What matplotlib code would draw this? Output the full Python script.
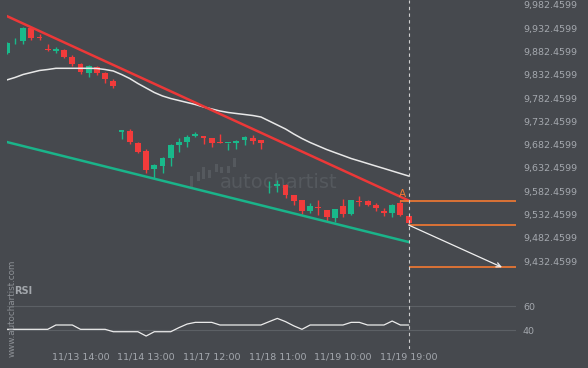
import matplotlib
matplotlib.use("Agg")
import matplotlib.pyplot as plt
from matplotlib.patches import Rectangle
import numpy as np

# ---------------- data ----------------
opens = [9880.0, 9904.1, 9905.8, 9933.7, 9913.1, 9886.9, 9884.3, 9885.8, 9871.4, 9855.7,
         9837.0, 9848.6, 9837.0, 9819.2, 9710.7, 9711.8, 9686.7, 9668.9, 9630.2, 9637.3,
         9654.5, 9681.7, 9688.8, 9702.1, 9701.1, 9696.8, 9686.7, 9685.4, 9685.4, 9692.5,
         9696.8, 9692.5, 9592.6, 9594.7, 9595.8, 9574.3, 9563.6, 9540.6, 9548.6, 9542.1,
         9524.3, 9550.7, 9532.9, 9562.1, 9560.8, 9552.9, 9539.9, 9535.7, 9557.8, 9529.2]
highs = [9903.0, 9910.9, 9935.2, 9935.8, 9919.5, 9898.0, 9891.6, 9886.9, 9875.1, 9858.5,
         9853.6, 9851.4, 9839.2, 9822.9, 9713.5, 9715.5, 9688.0, 9672.5, 9641.0, 9656.0,
         9683.9, 9697.4, 9703.2, 9710.3, 9701.5, 9697.8, 9706.4, 9687.0, 9692.5, 9700.0,
         9703.9, 9693.0, 9604.4, 9606.6, 9597.9, 9575.4, 9564.6, 9556.5, 9564.6, 9542.5,
         9544.2, 9565.1, 9564.0, 9571.5, 9564.6, 9556.5, 9545.8, 9556.0, 9563.6, 9530.0]
lows = [9878.0, 9898.0, 9899.3, 9907.9, 9907.9, 9883.6, 9878.7, 9868.0, 9851.4, 9833.6,
        9827.2, 9832.1, 9815.6, 9804.8, 9694.0, 9683.2, 9663.9, 9622.2, 9610.2, 9620.9,
        9637.3, 9667.4, 9678.1, 9698.3, 9683.9, 9678.1, 9685.0, 9670.4, 9672.1, 9680.7,
        9684.5, 9672.5, 9579.3, 9581.4, 9567.3, 9552.9, 9532.9, 9535.0, 9531.4, 9517.0,
        9515.3, 9527.7, 9531.4, 9550.7, 9550.7, 9539.9, 9529.2, 9527.1, 9529.2, 9512.0]
closes = [9901.5, 9906.2, 9933.7, 9912.2, 9910.9, 9885.2, 9887.9, 9871.4, 9855.7, 9837.9,
          9851.4, 9837.0, 9822.9, 9809.1, 9712.9, 9688.8, 9667.4, 9628.0, 9638.8, 9654.5,
          9681.7, 9688.8, 9698.3, 9704.3, 9696.1, 9686.0, 9685.4, 9686.7, 9689.7, 9699.6,
          9691.0, 9685.4, 9594.7, 9596.9, 9574.3, 9562.1, 9538.9, 9551.1, 9545.8, 9526.0,
          9543.6, 9533.5, 9563.6, 9559.3, 9553.9, 9545.8, 9536.7, 9553.9, 9530.3, 9513.6]
moving_avg = [9821.4, 9826.7, 9833.2, 9837.5, 9841.8, 9843.9, 9846.5, 9846.5, 9846.5, 9846.5,
              9846.5, 9846.1, 9843.9, 9840.7, 9833.2, 9824.6, 9813.8, 9804.2, 9794.5, 9787.0,
              9781.6, 9777.3, 9773.0, 9768.7, 9763.4, 9759.1, 9754.8, 9751.6, 9749.4, 9747.3,
              9745.1, 9741.9, 9733.3, 9724.7, 9716.1, 9705.4, 9695.7, 9687.1, 9679.6, 9672.1,
              9665.6, 9659.2, 9652.7, 9647.4, 9642.0, 9636.6, 9631.3, 9625.9, 9620.5, 9615.2]
rsi = [40.6, 40.6, 40.6, 40.6, 40.6, 40.6, 44.2, 44.2, 44.2, 40.6,
       40.6, 40.6, 40.6, 38.6, 38.6, 38.6, 38.6, 35.0, 38.6, 38.6,
       38.6, 42.0, 45.0, 46.4, 46.4, 46.4, 44.2, 44.2, 44.2, 44.2,
       44.2, 44.2, 47.0, 49.7, 47.0, 43.5, 40.6, 44.2, 44.2, 44.2,
       44.2, 44.2, 46.4, 46.4, 44.2, 44.2, 44.2, 47.5, 44.2, 44.2]

resistance_x = [0, 49]
resistance_y = [9958.8, 9562.5]
support_x = [0, 49]
support_y = [9688.2, 9473.4]
level_a = 9562.1
level_now = 9509.9
level_target = 9419.0
arrow_x = [49, 60.4]
arrow_y = [9509.9, 9419.0]

tick_idx = [9, 17, 25, 33, 41, 49]
tick_labels = ["11/13 14:00", "11/14 13:00", "11/17 12:00", "11/18 11:00",
               "11/19 10:00", "11/19 19:00"]
price_ticks = [9432.4599 + 50 * k for k in range(12)]
rsi_ticks = [40, 60]

# --------------- style ---------------
BG = "#46494e"
TXT = "#a4a8ae"
UP = "#19b98b"
DOWN = "#f23b3b"
RED_LINE = "#ec3838"
GREEN_LINE = "#1ab48a"
ORANGE = "#f57a32"

fig = plt.figure(figsize=(5.88, 3.68), dpi=100, facecolor=BG)
L = 6.7 / 588
W = (516 - 6.7) / 588
ax = fig.add_axes([L, 1 - 283 / 368, W, 283 / 368])
ax2 = fig.add_axes([L, 1 - 349 / 368, W, 66 / 368], sharex=ax)
for a in (ax, ax2):
    a.set_facecolor(BG)
    for s in a.spines.values():
        s.set_visible(False)

n = len(opens)
x = np.arange(n)
o = np.array(opens); c = np.array(closes)
h = np.array(highs); l = np.array(lows)
up = c >= o
cols = np.where(up, UP, DOWN)
ax.vlines(x, l, h, colors=cols, linewidth=1.0, zorder=3)
bottoms = np.minimum(o, c)
heights = np.maximum(np.abs(c - o), 2.0)
ax.bar(x, heights, bottom=bottoms, width=0.72, color=cols, linewidth=0, zorder=4)

# watermark
ax.text(0.535, 0.355, "autochartist", transform=ax.transAxes, fontsize=14,
        color="#55595e", ha="center", va="center", zorder=1)
logo = [(0.360, 0.340, 0.038), (0.373, 0.360, 0.032), (0.383, 0.368, 0.042),
        (0.396, 0.370, 0.030), (0.409, 0.393, 0.027), (0.419, 0.388, 0.021),
        (0.432, 0.390, 0.024), (0.445, 0.410, 0.032)]
for lx, ly, lh in logo:
    ax.add_patch(Rectangle((lx, ly), 0.006, lh, transform=ax.transAxes,
                           color="#55595e", linewidth=0, zorder=1))

ax.plot(x, moving_avg, color="#e8e8e8", linewidth=1.1, zorder=5)
ax.plot(resistance_x, resistance_y, color=RED_LINE, linewidth=1.8, zorder=6)
ax.plot(support_x, support_y, color=GREEN_LINE, linewidth=1.8, zorder=6)

ax.hlines(level_a, 48, 62.2, color=ORANGE, linewidth=1.2, zorder=6)
ax.hlines(level_now, 49, 62.2, color=ORANGE, linewidth=1.2, zorder=6)
ax.hlines(level_target, 49, 62.2, color=ORANGE, linewidth=1.2, zorder=6)
ax.text(48.3, level_a + 3, "A", color=ORANGE, fontsize=7.5, ha="center", va="bottom", zorder=7)
ax.annotate("", xy=(arrow_x[1], arrow_y[1]), xytext=(arrow_x[0], arrow_y[0]),
            arrowprops=dict(arrowstyle="->", color="#f0f0f0", lw=0.9,
                            shrinkA=0, shrinkB=0, mutation_scale=8), zorder=7)

for a in (ax, ax2):
    a.axvline(49, color="#cfcfcf", linewidth=0.8, linestyle=(0, (3, 3)), zorder=8)

ax.set_xlim(0, 62.1)
ax.set_ylim(9385.3, 9993.2)
ax.yaxis.tick_right()
ax.set_yticks(price_ticks)
ax.set_yticklabels([f"{v:,.4f}" for v in price_ticks])
ax.tick_params(axis="y", length=0, pad=5, labelsize=6.8, labelcolor=TXT)
ax.tick_params(axis="x", length=0, labelbottom=False)

# RSI panel
ax2.plot(x, rsi, color="#ececec", linewidth=0.9, zorder=5)
ax2.set_ylim(24.2, 79.2)
ax2.yaxis.tick_right()
ax2.set_yticks(rsi_ticks)
ax2.set_yticklabels([str(v) for v in rsi_ticks])
ax2.grid(axis="y", color="#5c6065", linewidth=0.8)
ax2.grid(axis="x", visible=False)
ax2.tick_params(axis="y", length=0, pad=5, labelsize=6.8, labelcolor=TXT)
ax2.set_xticks(tick_idx)
ax2.set_xticklabels(tick_labels)
ax2.tick_params(axis="x", length=0, pad=2.5, labelsize=6.8, labelcolor=TXT)

fig.text(14 / 588, 1 - 291 / 368, "RSI", fontsize=7, fontweight="bold",
         color="#a3a7ac", ha="left", va="center", zorder=5)
fig.text(12 / 588, 1 - 308 / 368, "www.autochartist.com", fontsize=6.3,
         color="#8d9196", rotation=90, ha="center", va="center", zorder=4)

fig.savefig("out.png", dpi=100, facecolor=BG)
